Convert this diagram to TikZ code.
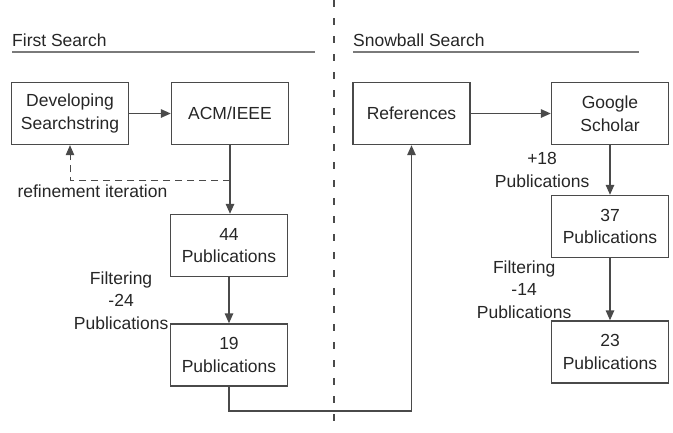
\documentclass[tikz,border=0pt]{standalone}
\usepackage{fontspec}
\setmainfont{Liberation Sans}
\usetikzlibrary{arrows.meta,positioning}
\definecolor{linegray}{HTML}{4A4A4A}
\definecolor{rulegray}{HTML}{7A7A7A}
\definecolor{textgray}{HTML}{262626}

\begin{document}
\begin{tikzpicture}[x=1pt,y=-1pt,
  font=\fontsize{17.5}{22.5}\selectfont,text=textgray,
  box/.style={draw=linegray,line width=1.4pt,minimum width=117pt,minimum height=62pt,align=center,inner sep=2pt},
  flow/.style={-{Triangle[length=10pt,width=8.5pt]},draw=linegray,line width=1.4pt},
  lbl/.style={align=center,inner sep=0pt}]
\useasboundingbox (0,0) rectangle (673,432);

% section titles and separator
\node (T1) at (12,46)[anchor=base west,inner sep=0pt] {First Search};
\node (T2) at (353,46)[anchor=base west,inner sep=0pt] {Snowball Search};
\draw [rulegray,line width=1.6pt] (12,52) -- (315,52);
\draw [rulegray,line width=1.6pt] (353,52) -- (639,52);
\draw [linegray,line width=1.1pt,dash pattern=on 7pt off 11pt] (334,0) -- (334,432);

% first search
\node (DS) at (70,113.5)[box] {Developing\\Searchstring};
\node (ACM) at (230,113.5)[box] {ACM/IEEE};
\node (P44) at (229,245.5)[box] {44\\Publications};
\node (P19) at (229,355)[box] {19\\Publications};
\coordinate (FB) at (ACM.south |- 0,180);
\coordinate (TURN) at (229,411);

\draw [flow] (DS) -- (ACM);
\draw [flow] (ACM.south) -- (ACM.south |- P44.north);
\draw [flow,dashed,dash pattern=on 7pt off 5pt,line width=1pt] (FB) -| node[pos=0.43,below=4pt,lbl] {refinement iteration} (DS.south);
\draw [flow] (P44) -- node[midway,anchor=east,xshift=-60pt,lbl] {Filtering\\-24\\Publications} (P19);

% snowball search
\node (REF) at (411.5,113.5)[box] {References};
\node (GS) at (610,113.5)[box] {Google\\Scholar};
\node (P37) at (610,226.5)[box] {37\\Publications};
\node (P23) at (610,352)[box] {23\\Publications};

\draw [flow] (P19.south) -- (TURN) -| (REF.south);
\draw [flow] (REF) -- (GS);
\draw [flow] (GS) -- node[midway,anchor=east,xshift=-20pt,lbl] {+18\\Publications} (P37);
\draw [flow] (P37) -- node[midway,anchor=east,xshift=-38pt,lbl] {Filtering\\-14\\Publications} (P23);
\end{tikzpicture}
\end{document}
